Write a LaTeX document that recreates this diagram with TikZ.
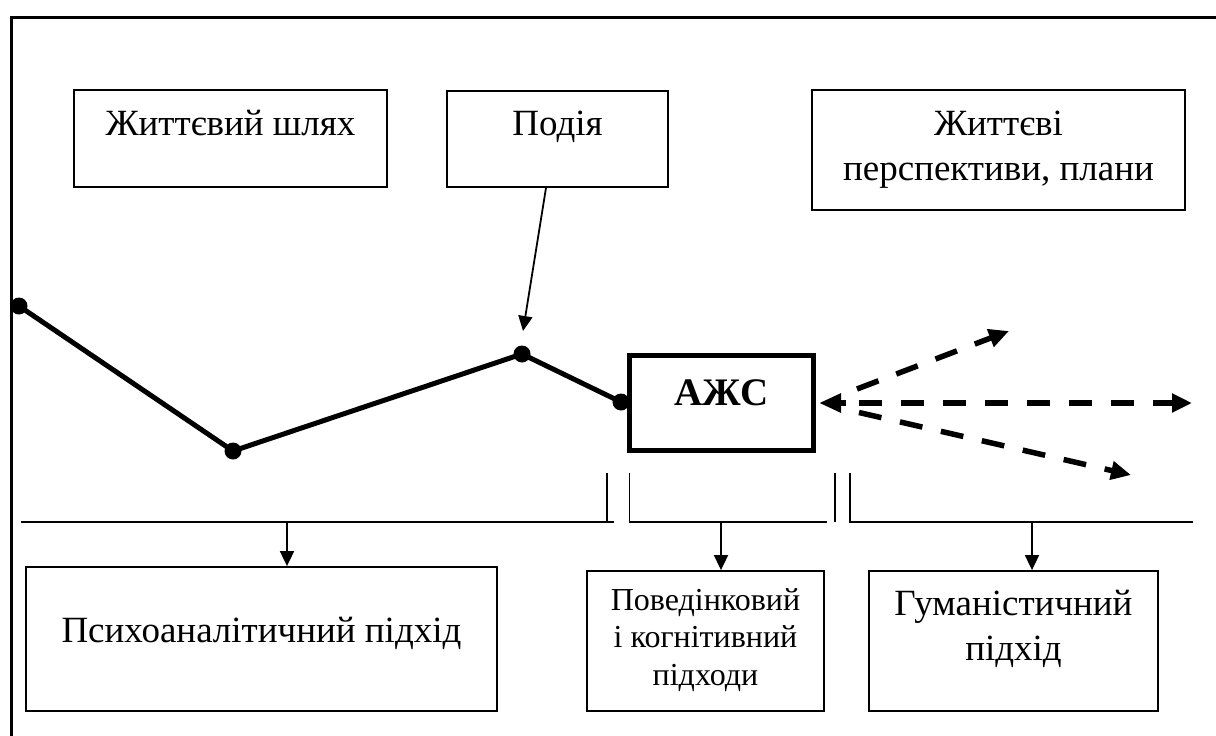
\documentclass[tikz,border=0pt]{standalone}
\usepackage{fontspec}
\setmainfont{Liberation Serif}
\usetikzlibrary{arrows.meta}
\begin{document}
\begin{tikzpicture}[x=1pt,y=-1pt,
  box/.style={draw, line width=1.8pt, inner sep=0pt, rectangle},
  thickbox/.style={draw, line width=5pt, inner sep=0pt, rectangle},
  big/.style={font=\fontsize{37}{44}\selectfont, inner sep=0pt, anchor=base},
  small/.style={font=\fontsize{32}{38}\selectfont, inner sep=0pt, anchor=base},
  dot/.style={circle, fill=black, inner sep=0pt, minimum size=17pt},
  thin/.style={line width=1.8pt},
  thinarrow/.style={line width=1.8pt, -{Triangle[length=15pt,width=14pt]}},
  dasharrow/.style={line width=5.5pt, dash pattern=on 23pt off 19pt, -{Triangle[length=20pt,width=18pt]}},
  headarrow/.style={line width=5.5pt, -{Triangle[length=22pt,width=18pt]}}
]
\useasboundingbox (0,0) rectangle (1216,736);
% frame
\draw[line width=3pt] (1216,17.5) -- (11.5,17.5) -- (11.5,736);

% top boxes
\node[box, minimum width=313pt, minimum height=97pt] (b1) at (230.5,138.5) {};
\node[big] (t1) at (230.5,135) {Життєвий шлях};
\node[box, minimum width=221pt, minimum height=96pt] (b2) at (557.5,139) {};
\node[big] (t2) at (557.5,135) {Подія};
\node[box, minimum width=373pt, minimum height=120pt] (b3) at (998.5,150) {};
\node[big] (t3a) at (998.5,135) {Життєві};
\node[big] (t3b) at (998.5,180) {перспективи, плани};

% life line
\node[dot] (p1) at (19,306) {};
\node[dot] (p2) at (233,451) {};
\node[dot] (p3) at (522,354) {};
\node[dot] (p4) at (621,402) {};
\draw[line width=5pt] (p1.center) -- (p2.center) -- (p3.center) -- (p4.center);

% event arrow
\coordinate (evtip) at (523,331);
\draw[thinarrow] ([xshift=-11.5pt]b2.south) -- (evtip);

% AZhS box
\node[thickbox, minimum width=184pt, minimum height=95pt] (azs) at (721.5,403) {};
\node[big, font=\fontsize{39}{46}\selectfont\bfseries] (tz) at (721.5,405) {АЖС};

% dashed arrows
\coordinate (zl) at (846,403);
\coordinate (zu0) at (857,389);
\coordinate (zm0) at (859,403);
\coordinate (zd0) at (859,412.5);
\coordinate (zu) at (1009,331);
\coordinate (zm) at (1192,403);
\coordinate (zd) at (1131,475);
\draw[headarrow] (zl) -- ([xshift=3pt]azs.east);
\draw[dasharrow] (zu0) -- (zu);
\draw[dasharrow] (zm0) -- (zm);
\draw[dasharrow] (zd0) -- (zd);

% brackets
\coordinate (a1) at (21,522);
\coordinate (a2) at (614,522);
\coordinate (a3) at (607,473);
\coordinate (a4) at (607,522);
\draw[thin] (a1) -- (a2);
\draw[thin] (a3) -- (a4);
\coordinate (bb1) at (629.5,473);
\coordinate (bb2) at (629.5,522);
\coordinate (bb3) at (827,522);
\coordinate (bb4) at (835,473);
\coordinate (bb5) at (835,522);
\draw[thin] (bb1) -- (bb2) -- (bb3);
\draw[thin] (bb4) -- (bb5);
\coordinate (c1) at (850,473);
\coordinate (c2) at (850,522);
\coordinate (c3) at (1193,522);
\draw[thin] (c1) -- (c2) -- (c3);

% bottom boxes
\node[box, minimum width=471pt, minimum height=144pt] (ba) at (261.5,639) {};
\node[big] (ta) at (261.5,642) {Психоаналітичний підхід};
\node[box, minimum width=237pt, minimum height=140pt] (bb) at (705.5,641) {};
\node[small] (tb1) at (705.5,610) {Поведінковий};
\node[small] (tb2) at (705.5,647) {і когнітивний};
\node[small] (tb3) at (705.5,685) {підходи};
\node[box, minimum width=289pt, minimum height=140pt] (bc) at (1013.5,641) {};
\node[big] (tc1) at (1013.5,615) {Гуманістичний};
\node[big] (tc2) at (1013.5,660) {підхід};

% down arrows
\coordinate (da) at (287,522);
\coordinate (db) at (721,522);
\coordinate (dc) at (1032,522);
\draw[thinarrow] (da) -- (da |- ba.north);
\draw[thinarrow] (db) -- (db |- bb.north);
\draw[thinarrow] (dc) -- (dc |- bc.north);
\end{tikzpicture}
\end{document}
